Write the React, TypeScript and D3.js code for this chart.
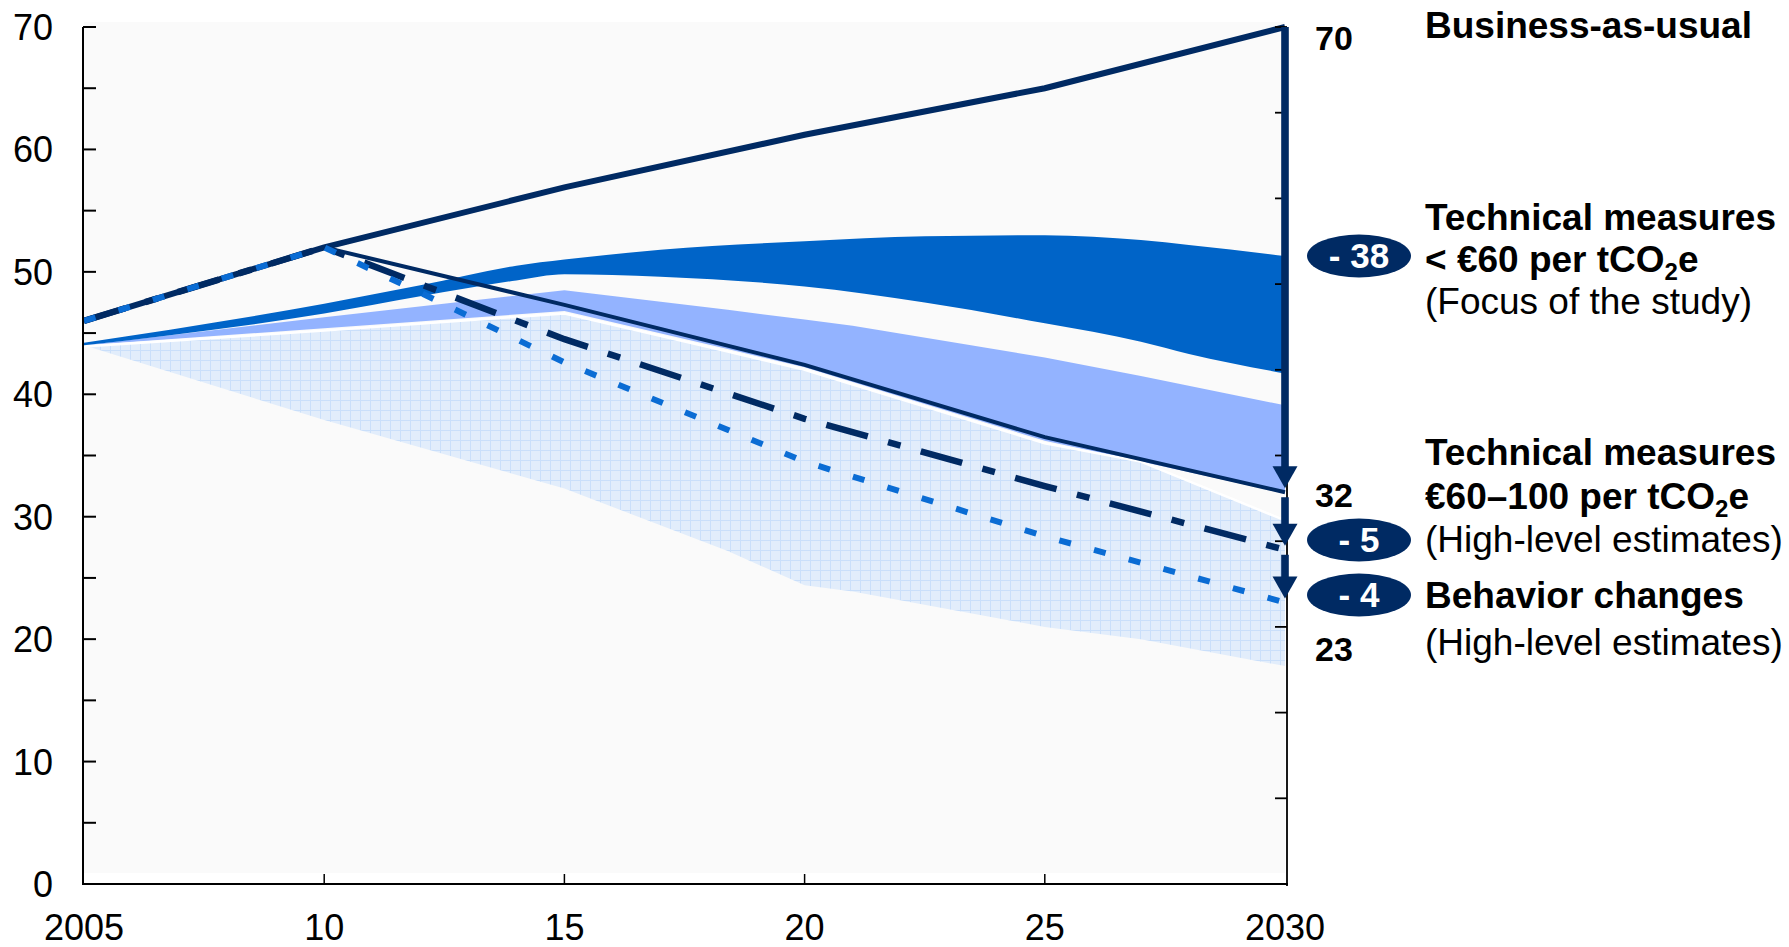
import React from "react";
import * as d3 from "d3";

// ---------- data ----------
const years5 = [2005, 2010, 2015, 2020, 2025, 2030];
const xTickLabels = ["2005", "10", "15", "20", "25", "2030"];
const yTickValues = [0, 10, 20, 30, 40, 50, 60, 70];

const bau = [46, 52, 56.9, 61.2, 65, 70];

const techYears = [2010, 2015, 2020, 2025, 2030];
const tech = [52, 47.3, 42.4, 36.5, 32];

const pathYears = [2005, 2010, 2012, 2015, 2020, 2025, 2030];
const dashDot = [46, 52, 49.0, 44.5, 38.0, 32.5, 27.3];
const dotted = [46, 52, 48.3, 42.6, 34.5, 28.4, 23.0];

const midYears = [2005, 2010, 2012, 2014, 2015, 2017, 2020, 2022.5, 2025, 2027, 2028, 2030];
const midUpper = [44.2, 47.4, 48.9, 50.5, 51.0, 51.8, 52.5, 52.9, 53.0, 52.6, 52.2, 51.3];
const midLower = [44.0, 46.6, 48.0, 49.3, 49.8, 49.6, 48.8, 47.5, 45.8, 44.3, 43.3, 41.7];

const periYears = [2005, 2010, 2015, 2018.4, 2020, 2021, 2025, 2027, 2030];
const periUpper = [44.0, 46.3, 48.5, 46.9, 46.1, 45.6, 43.0, 41.5, 39.1];
const periLower = [44.0, 45.4, 46.8, 43.7, 42.2, 41.0, 36.2, 34.5, 31.9];

const hatchYears = [2005, 2010, 2015, 2018.4, 2020, 2021, 2025, 2027, 2030];
const hatchUpper = [43.9, 45.2, 46.6, 43.5, 42.0, 40.8, 36.0, 34.5, 29.7];
const hatchLower = [44.0, 37.9, 32.3, 27.2, 24.4, 23.9, 21.0, 20.0, 17.8];

const arrowFrom = [70, 32, 27.3];
const arrowTo = [32, 27.3, 23];
const badgeTexts = ["- 38", "- 5", "- 4"];
const endValueLabels = ["70", "32", "23"];

// ---------- styles ----------
const NAVY = "#002a63";
const MID = "#0064c8";
const PERI = "#93b3ff";
const DOT = "#0a6cd4";
const FONT = "'Liberation Sans', Arial, Helvetica, sans-serif";

type P = [number, number];
const zip = (xs: number[], ys: number[]): P[] => xs.map((d, i) => [d, ys[i]]);

export default function App() {
  const W = 1789, H = 947;
  const x = d3.scaleLinear().domain([2005, 2030]).range([84, 1285]);
  const y = d3.scaleLinear().domain([0, 70]).range([884, 27]);
  const yRight = d3.scaleLinear().domain([0, 10]).range([884, 27]);

  const line = d3.line<P>().x((d) => x(d[0])).y((d) => y(d[1]));
  const band = (ys: number[], up: number[], lo: number[], curve: any) =>
    d3
      .area<number>()
      .x((d) => x(d))
      .y0((_, i) => y(lo[i]))
      .y1((_, i) => y(up[i]))
      .curve(curve)(ys) as string;

  const hatchTopLine = d3
    .line<P>()
    .x((d) => x(d[0]))
    .y((d) => y(d[1]))(zip(hatchYears, hatchUpper)) as string;

  const axisX = 1287;
  const shaftHalf = 3.8;
  const headHalf = 12.5;
  const headH = 22;

  const badgeY = [256, 540, 595];
  const endLabelY = [50, 507, 661];

  return (
    <svg
      width={W}
      height={H}
      style={{ position: "absolute", left: 0, top: 0, background: "#fff" }}
      fontFamily={FONT}
    >
      <defs>
        <pattern id="hatch" width="10" height="10" patternUnits="userSpaceOnUse">
          <rect width="10" height="10" fill="#e2edfb" />
          <path d="M0 0.5H10M0.5 0V10" stroke="#cadffa" strokeWidth="1" />
        </pattern>
      </defs>

      {/* plot background */}
      <rect x={x(2005)} y={22} width={x(2030) - x(2005)} height={873 - 22} fill="#fafafa" />

      {/* bands */}
      <path d={band(hatchYears, hatchUpper, hatchLower, d3.curveLinear)} fill="url(#hatch)" />
      <path d={band(periYears, periUpper, periLower, d3.curveLinear)} fill={PERI} />
      <path d={hatchTopLine} fill="none" stroke="#ffffff" strokeWidth={2.5} />
      <path d={band(midYears, midUpper, midLower, d3.curveMonotoneX)} fill={MID} />

      {/* lines */}
      <path d={line(zip(years5, bau)) as string} fill="none" stroke={NAVY} strokeWidth={6} />
      <path d={line(zip(techYears, tech)) as string} fill="none" stroke={NAVY} strokeWidth={4} />
      <path
        d={line(zip(pathYears, dashDot)) as string}
        fill="none"
        stroke={NAVY}
        strokeWidth={6.5}
        strokeDasharray="43 21 13 21"
      />
      <path
        d={line(zip(pathYears, dotted)) as string}
        fill="none"
        stroke={DOT}
        strokeWidth={6}
        strokeDasharray="12 24"
      />

      {/* left axis */}
      <line x1={83} x2={83} y1={y(70)} y2={885} stroke="#000" strokeWidth={2} />
      {d3.range(0, 71, 5).map((v) => (
        <line key={"lt" + v} x1={83} x2={96} y1={y(v)} y2={y(v)} stroke="#000" strokeWidth={2} />
      ))}
      {yTickValues.map((v) => (
        <text key={"ly" + v} x={53} y={y(v) + 13} fontSize={36} textAnchor="end" fill="#000">
          {v}
        </text>
      ))}

      {/* bottom axis */}
      <line x1={82} x2={axisX + 1} y1={884} y2={884} stroke="#000" strokeWidth={2} />
      {years5.slice(1, 5).map((yr) => (
        <line key={"xt" + yr} x1={x(yr)} x2={x(yr)} y1={884} y2={874} stroke="#000" strokeWidth={1.5} />
      ))}
      {years5.map((yr, i) => (
        <text key={"xl" + yr} x={x(yr)} y={940} fontSize={36} textAnchor="middle" fill="#000">
          {xTickLabels[i]}
        </text>
      ))}

      {/* right axis */}
      <line x1={axisX} x2={axisX} y1={y(70)} y2={886} stroke="#000" strokeWidth={1.8} />
      {d3.range(0, 11).map((k) => (
        <line
          key={"rt" + k}
          x1={axisX - 12}
          x2={axisX}
          y1={yRight(k)}
          y2={yRight(k)}
          stroke="#000"
          strokeWidth={1.8}
        />
      ))}

      {/* arrows */}
      {arrowFrom.map((f, i) => {
        const tip = y(arrowTo[i]) - 4;
        const top = y(f) + (i === 0 ? 0 : 5);
        const cx = x(2030);
        return (
          <g key={"ar" + i} fill={NAVY}>
            <rect x={cx - shaftHalf} y={top} width={shaftHalf * 2} height={tip - headH - top + 2} />
            <path
              d={`M${cx - headHalf},${tip - headH}L${cx + headHalf},${tip - headH}L${cx},${tip}Z`}
            />
          </g>
        );
      })}

      {/* badges */}
      {badgeTexts.map((t, i) => (
        <g key={"bd" + i}>
          <ellipse cx={1359} cy={badgeY[i]} rx={52} ry={21.5} fill={NAVY} />
          <text
            x={1359}
            y={badgeY[i] + 12}
            fontSize={35}
            fontWeight="bold"
            fill="#fff"
            textAnchor="middle"
          >
            {t}
          </text>
        </g>
      ))}

      {/* end value labels */}
      {endValueLabels.map((t, i) => (
        <text key={"ev" + i} x={1315} y={endLabelY[i]} fontSize={34} fontWeight="bold" fill="#000">
          {t}
        </text>
      ))}

      {/* right-hand legend text */}
      <g fontSize={37} fill="#000">
        <text x={1425} y={38} fontWeight="bold">Business-as-usual</text>

        <text x={1425} y={230} fontWeight="bold">Technical measures</text>
        <text x={1425} y={272} fontWeight="bold">
          <tspan>{"< €60 per tCO"}</tspan>
          <tspan fontSize={24} dy={8}>2</tspan>
          <tspan dy={-8}>e</tspan>
        </text>
        <text x={1425} y={314}>(Focus of the study)</text>

        <text x={1425} y={465} fontWeight="bold">Technical measures</text>
        <text x={1425} y={509} fontWeight="bold">
          <tspan>{"€60–100 per tCO"}</tspan>
          <tspan fontSize={24} dy={8}>2</tspan>
          <tspan dy={-8}>e</tspan>
        </text>
        <text x={1425} y={552}>(High-level estimates)</text>

        <text x={1425} y={608} fontWeight="bold">Behavior changes</text>
        <text x={1425} y={655}>(High-level estimates)</text>
      </g>
    </svg>
  );
}
